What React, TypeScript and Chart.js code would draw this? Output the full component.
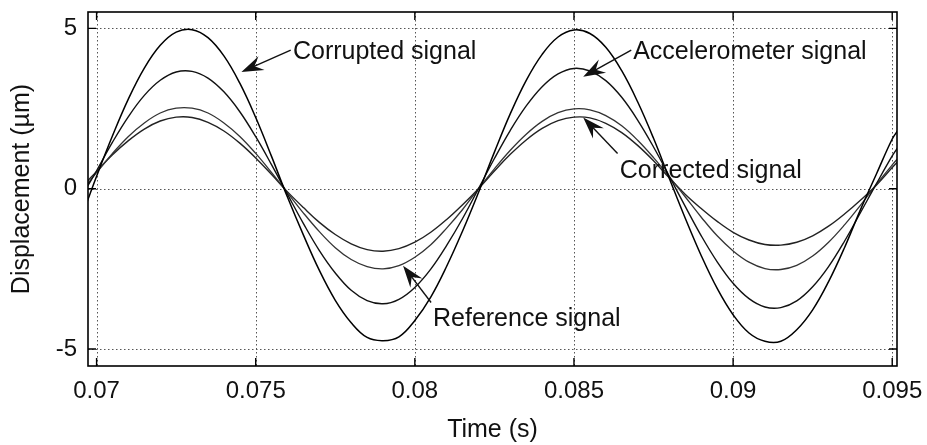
import React, { useEffect, useRef } from "react";
import { Chart, registerables } from "chart.js";

Chart.register(...registerables);

// ---------- data ----------
const time = [
  0.0697, 0.07, 0.0705, 0.071, 0.0715, 0.072, 0.0725, 0.073, 0.0735, 0.074, 0.0745, 0.075, 0.0755,
  0.076, 0.0765, 0.077, 0.0775, 0.078, 0.0785, 0.079, 0.0795, 0.08, 0.0805, 0.081, 0.0815, 0.082,
  0.0825, 0.083, 0.0835, 0.084, 0.0845, 0.085, 0.0855, 0.086, 0.0865, 0.087, 0.0875, 0.088,
  0.0885, 0.089, 0.0895, 0.09, 0.0905, 0.091, 0.0915, 0.092, 0.0925, 0.093, 0.0935, 0.094,
  0.0945, 0.095, 0.0952,
];

const corrupted = [
  -0.42, 0.39, 1.65, 2.8, 3.76, 4.47, 4.88, 4.96, 4.71, 4.14, 3.29, 2.22, 1.0,
  -0.27, -1.45, -2.55, -3.48, -4.18, -4.64, -4.74, -4.62, -4.11, -3.38, -2.42, -1.32, -0.12,
  1.14, 2.34, 3.38, 4.19, 4.73, 4.95, 4.84, 4.41, 3.68, 2.71, 1.57, 0.31,
  -0.93, -2.09, -3.11, -3.93, -4.5, -4.76, -4.76, -4.4, -3.78, -2.9, -1.84, -0.66,
  0.45, 1.55, 1.85,
];

const accelerometer = [
  0.05, 0.56, 1.45, 2.25, 2.91, 3.38, 3.64, 3.66, 3.45, 3.02, 2.4, 1.62, 0.74,
  -0.18, -1.09, -1.93, -2.63, -3.17, -3.49, -3.59, -3.45, -3.08, -2.51, -1.77, -0.93, 0.0,
  0.94, 1.82, 2.58, 3.18, 3.58, 3.75, 3.67, 3.37, 2.85, 2.14, 1.3, 0.38,
  -0.56, -1.47, -2.28, -2.95, -3.43, -3.69, -3.71, -3.5, -3.06, -2.43, -1.64, -0.75,
  0.15, 1.02, 1.32,
];

const reference = [
  0.13, 0.5, 1.1, 1.63, 2.05, 2.36, 2.51, 2.51, 2.36, 2.05, 1.63, 1.1, 0.5,
  -0.13, -0.76, -1.34, -1.84, -2.21, -2.43, -2.5, -2.4, -2.14, -1.75, -1.23, -0.65, 0.0,
  0.62, 1.2, 1.7, 2.1, 2.37, 2.49, 2.46, 2.28, 1.96, 1.51, 0.97, 0.37,
  -0.26, -0.89, -1.47, -1.94, -2.29, -2.49, -2.52, -2.39, -2.1, -1.67, -1.13, -0.52,
  0.13, 0.74, 0.97,
];

const corrected = [
  0.22, 0.54, 1.06, 1.5, 1.86, 2.11, 2.23, 2.22, 2.07, 1.8, 1.42, 0.96, 0.44,
  -0.1, -0.59, -1.05, -1.43, -1.72, -1.9, -1.95, -1.87, -1.67, -1.36, -0.96, -0.5, 0.0,
  0.55, 1.07, 1.52, 1.88, 2.12, 2.23, 2.21, 2.04, 1.75, 1.35, 0.87, 0.33,
  -0.18, -0.62, -1.02, -1.36, -1.6, -1.74, -1.76, -1.67, -1.47, -1.17, -0.79, -0.36,
  0.11, 0.66, 0.87,
];

const xTicks = [0.07, 0.075, 0.08, 0.085, 0.09, 0.095];
const xTickLabels = ["0.07", "0.075", "0.08", "0.085", "0.09", "0.095"];
const yTicks = [-5, 0, 5];
const yTickLabels = ["-5", "0", "5"];

const xTitle = "Time (s)";
const yTitle = "Displacement (\u00b5m)";

// annotation texts with arrow start / tip (data coordinates)
const annotationTexts = ["Corrupted signal", "Accelerometer signal", "Corrected signal", "Reference signal"];
const annotationTextAt = [
  [0.07617, 4.27],
  [0.08686, 4.27],
  [0.08644, 0.55],
  [0.08057, -4.06],
];
const annotationArrowFrom = [
  [0.0761, 4.32],
  [0.0868, 4.32],
  [0.08637, 1.1],
  [0.08051, -3.55],
];
const annotationArrowTo = [
  [0.07455, 3.64],
  [0.08529, 3.49],
  [0.08529, 2.22],
  [0.07963, -2.4],
];

const FONT = "'Liberation Sans', Arial, Helvetica, sans-serif";

const overlayPlugin = {
  id: "overlay",
  beforeDatasetsDraw(chart: any) {
    const { ctx, chartArea: a, scales } = chart;
    const x = scales.x;
    const y = scales.y;
    ctx.save();
    ctx.strokeStyle = "#555";
    ctx.lineWidth = 1;
    ctx.setLineDash([1.5, 2.5]);
    xTicks.forEach((v) => {
      const px = Math.round(x.getPixelForValue(v)) + 0.5;
      ctx.beginPath();
      ctx.moveTo(px, a.top);
      ctx.lineTo(px, a.bottom);
      ctx.stroke();
    });
    yTicks.forEach((v) => {
      const py = Math.round(y.getPixelForValue(v)) + 0.5;
      ctx.beginPath();
      ctx.moveTo(a.left, py);
      ctx.lineTo(a.right, py);
      ctx.stroke();
    });
    ctx.restore();
  },
  afterDatasetsDraw(chart: any) {
    const { ctx, chartArea: a, scales } = chart;
    const x = scales.x;
    const y = scales.y;
    ctx.save();
    // axes box
    ctx.setLineDash([]);
    ctx.strokeStyle = "#000";
    ctx.lineWidth = 1.6;
    ctx.strokeRect(a.left, a.top, a.right - a.left, a.bottom - a.top);
    // inward tick marks
    ctx.lineWidth = 1.4;
    const tl = 8;
    xTicks.forEach((v) => {
      const px = x.getPixelForValue(v);
      ctx.beginPath();
      ctx.moveTo(px, a.bottom);
      ctx.lineTo(px, a.bottom - tl);
      ctx.moveTo(px, a.top);
      ctx.lineTo(px, a.top + tl);
      ctx.stroke();
    });
    yTicks.forEach((v) => {
      const py = y.getPixelForValue(v);
      ctx.beginPath();
      ctx.moveTo(a.left, py);
      ctx.lineTo(a.left + tl, py);
      ctx.moveTo(a.right, py);
      ctx.lineTo(a.right - tl, py);
      ctx.stroke();
    });

    // annotations
    ctx.fillStyle = "#111";
    ctx.strokeStyle = "#111";
    ctx.font = `25px ${FONT}`;
    ctx.textAlign = "left";
    ctx.textBaseline = "middle";
    annotationTexts.forEach((t, i) => {
      const tx = x.getPixelForValue(annotationTextAt[i][0]);
      const ty = y.getPixelForValue(annotationTextAt[i][1]);
      ctx.fillText(t, tx, ty);
      const sx = x.getPixelForValue(annotationArrowFrom[i][0]);
      const sy = y.getPixelForValue(annotationArrowFrom[i][1]);
      const ex = x.getPixelForValue(annotationArrowTo[i][0]);
      const ey = y.getPixelForValue(annotationArrowTo[i][1]);
      const dx = ex - sx;
      const dy = ey - sy;
      const len = Math.hypot(dx, dy);
      const ux = dx / len;
      const uy = dy / len;
      const nx = -uy;
      const ny = ux;
      const L = 22;
      const W = 7.5;
      ctx.lineWidth = 1.4;
      ctx.beginPath();
      ctx.moveTo(sx, sy);
      ctx.lineTo(ex - ux * L * 0.6, ey - uy * L * 0.6);
      ctx.stroke();
      ctx.beginPath();
      ctx.moveTo(ex, ey);
      ctx.lineTo(ex - ux * L + nx * W, ey - uy * L + ny * W);
      ctx.lineTo(ex - ux * L * 0.65, ey - uy * L * 0.65);
      ctx.lineTo(ex - ux * L - nx * W, ey - uy * L - ny * W);
      ctx.closePath();
      ctx.fill();
    });
    ctx.restore();
  },
};

function toPoints(ys: number[]) {
  return ys.map((v, i) => ({ x: time[i], y: v }));
}

export default function App() {
  const ref = useRef<HTMLCanvasElement | null>(null);

  useEffect(() => {
    if (!ref.current) return;
    const mk = (label: string, ys: number[], color: string, w: number) => ({
      label,
      data: toPoints(ys),
      borderColor: color,
      borderWidth: w,
      pointRadius: 0,
      tension: 0.4,
      fill: false,
    });
    const chart = new Chart(ref.current, {
      type: "line",
      data: {
        datasets: [
          mk("Corrupted signal", corrupted, "#000", 1.5),
          mk("Accelerometer signal", accelerometer, "#111", 1.4),
          mk("Reference signal", reference, "#333", 1.3),
          mk("Corrected signal", corrected, "#222", 1.4),
        ],
      },
      options: {
        responsive: false,
        animation: false,
        layout: { padding: { left: 0, right: 30, top: 12, bottom: 0 } },
        plugins: { legend: { display: false }, tooltip: { enabled: false } },
        scales: {
          x: {
            type: "linear",
            min: 0.06973,
            max: 0.09515,
            afterBuildTicks: (axis: any) => {
              axis.ticks = xTicks.map((v) => ({ value: v }));
            },
            afterFit: (axis: any) => {
              axis.height = 79;
              axis.paddingLeft = 0;
              axis.paddingRight = 0;
            },
            grid: { display: false, drawTicks: false },
            border: { display: false },
            ticks: {
              padding: 11,
              color: "#111",
              font: { size: 24, family: FONT },
              maxRotation: 0,
              autoSkip: false,
              callback: (v: any) => {
                const i = xTicks.findIndex((t) => Math.abs(t - Number(v)) < 1e-9);
                return i >= 0 ? xTickLabels[i] : "";
              },
            },
            title: {
              display: true,
              text: xTitle,
              color: "#111",
              font: { size: 25, family: FONT },
              padding: { top: 0, bottom: 0 },
            },
          },
          y: {
            type: "linear",
            min: -5.53,
            max: 5.51,
            afterBuildTicks: (axis: any) => {
              axis.ticks = yTicks.map((v) => ({ value: v }));
            },
            afterFit: (axis: any) => {
              axis.width = 88;
              axis.paddingTop = 0;
              axis.paddingBottom = 0;
            },
            grid: { display: false, drawTicks: false },
            border: { display: false },
            ticks: {
              padding: 11,
              color: "#111",
              font: { size: 24, family: FONT },
              autoSkip: false,
              callback: (v: any) => {
                const i = yTicks.findIndex((t) => Math.abs(t - Number(v)) < 1e-9);
                return i >= 0 ? yTickLabels[i] : "";
              },
            },
            title: {
              display: true,
              text: yTitle,
              color: "#111",
              font: { size: 25, family: FONT },
              padding: { top: 7, bottom: 0 },
            },
          },
        },
      },
      plugins: [overlayPlugin],
    } as any);
    return () => chart.destroy();
  }, []);

  return (
    <div style={{ position: "fixed", left: 0, top: 0, width: 927, height: 445, background: "#fff" }}>
      <canvas ref={ref} width={927} height={445} style={{ display: "block", width: 927, height: 445 }} />
    </div>
  );
}
